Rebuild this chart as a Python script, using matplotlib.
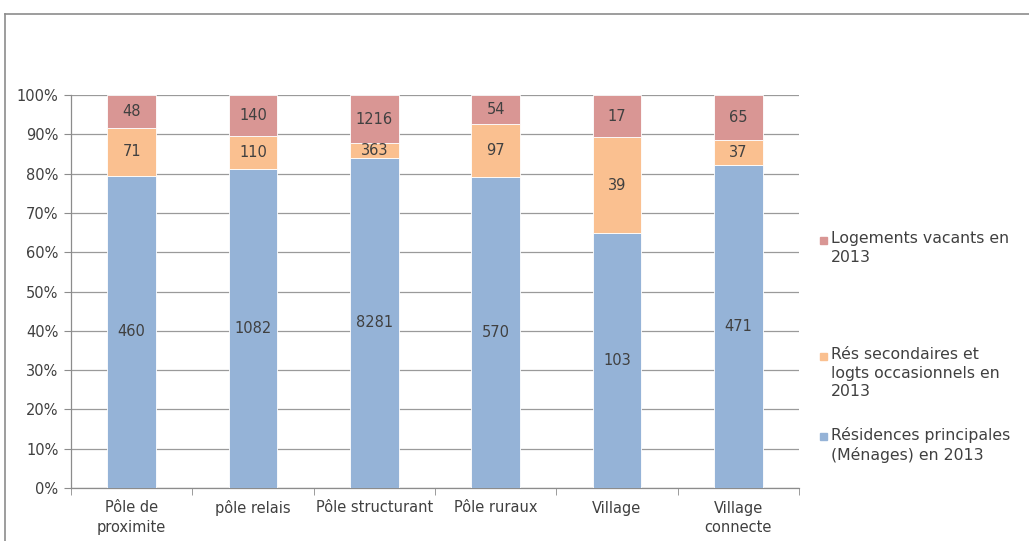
import matplotlib
matplotlib.use("Agg")
import matplotlib.pyplot as plt
from matplotlib.patches import Rectangle
from matplotlib.lines import Line2D
import numpy as np

categories = ["Pôle de\nproximite", "pôle relais", "Pôle structurant",
              "Pôle ruraux", "Village", "Village\nconnecte"]
residences_principales = [460, 1082, 8281, 570, 103, 471]
residences_secondaires = [71, 110, 363, 97, 39, 37]
logements_vacants = [48, 140, 1216, 54, 17, 65]

series_labels = ["Résidences principales\n(Ménages) en 2013",
                 "Rés secondaires et\nlogts occasionnels en\n2013",
                 "Logements vacants en\n2013"]
colors = ["#95B3D7", "#FAC090", "#D99694"]
yticks_labels = [f"{v}%" for v in range(0, 101, 10)]

plt.rcParams["font.family"] = ["DejaVu Sans"]
text_color = "#404040"

fig = plt.figure(figsize=(10.29, 5.41), dpi=100)
W, H = 1029, 541

# outer chart frame
fig.add_artist(Line2D([4.5 / W, 4.5 / W], [0, 1 - 13.5 / H], color="#8C8C8C", lw=1.2))
fig.add_artist(Line2D([4.5 / W, 1], [1 - 13.5 / H, 1 - 13.5 / H], color="#8C8C8C", lw=1.2))

ax = fig.add_axes([71 / W, 1 - 488 / H, 728 / W, 393 / H])

data = np.array([residences_principales, residences_secondaires, logements_vacants], dtype=float)
totals = data.sum(axis=0)
pct = data / totals * 100
x = np.arange(len(categories))

bottom = np.zeros(len(categories))
for i in range(3):
    ax.bar(x, pct[i], bottom=bottom, width=0.4, color=colors[i],
           edgecolor="white", linewidth=0.6, zorder=3)
    for j in range(len(categories)):
        ax.text(x[j], bottom[j] + pct[i][j] / 2, f"{int(data[i][j])}",
                ha="center", va="center", fontsize=10.5, color=text_color, zorder=4)
    bottom += pct[i]

ax.set_xlim(-0.5, len(categories) - 0.5)
ax.set_ylim(0, 100)
ax.set_yticks(range(0, 101, 10))
ax.set_yticklabels(yticks_labels, fontsize=10.5, color=text_color)
ax.set_xticks(x)
ax.set_xticklabels(categories, fontsize=10.5, color=text_color, linespacing=1.35)
ax.set_xticks(np.arange(-0.5, len(categories)), minor=True)
ax.tick_params(axis="x", which="major", length=0, pad=9)
ax.tick_params(axis="x", which="minor", length=5, color="#8C8C8C", direction="out")
ax.tick_params(axis="y", length=5, color="#8C8C8C", pad=4)

ax.grid(axis="y", color="#9A9A9A", linewidth=0.9, zorder=0)
for s in ["top", "right"]:
    ax.spines[s].set_visible(False)
for s in ["left", "bottom"]:
    ax.spines[s].set_color("#8C8C8C")
    ax.spines[s].set_linewidth(0.9)

# legend, top entry first
legend_items = [(2, 240), (1, 356), (0, 436)]
for idx, ypix in legend_items:
    fig.add_artist(Rectangle((820 / W, 1 - (ypix + 4) / H), 7 / W, 7 / H,
                             color=colors[idx], transform=fig.transFigure))
    fig.text(831 / W, 1 - (ypix - 9) / H, series_labels[idx], ha="left", va="top",
             fontsize=11.3, color=text_color, linespacing=1.3)

fig.savefig("out.png", dpi=100)
